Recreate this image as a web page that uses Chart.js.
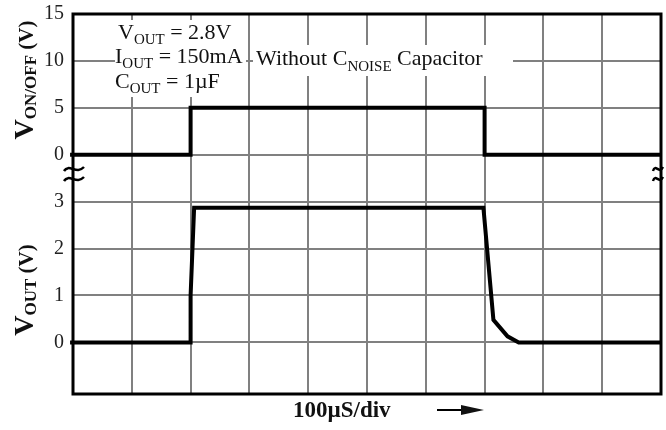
<!DOCTYPE html>
<html>
<head>
<meta charset="utf-8">
<script src="https://cdn.jsdelivr.net/npm/chart.js@4.4.0/dist/chart.umd.min.js"></script>
<style>
  html, body { margin: 0; padding: 0; background: #fff; }
</style>
</head>
<body>
<canvas id="scope" width="666" height="430"></canvas>
<script>
// time in microseconds (100us per division)
const onOffTime = [-5, 200, 200, 700, 700, 1000];
const onOffVolts = [0, 0, 5, 5, 0, 0];
const voutTime = [-5, 200, 200, 206, 698, 715, 739, 758, 1000];
const voutVolts = [0, 0, 1.0, 2.87, 2.87, 0.48, 0.13, 0, 0];

// the screen has 4 rows for each trace
const voutTickLabels = ["0", "1", "2", "3"];
const onOffTickLabels = ["0", "5", "10", "15"];

const serif = "'Liberation Serif', 'Times New Roman', serif";
const gridGrey = "#808080";

// V_OUT rows sit at divisions 0..3, V_ON/OFF rows at 4..7 (5V per division)
const voutPoints = voutTime.map((t, i) => ({ x: t, y: voutVolts[i] }));
const onOffPoints = onOffTime.map((t, i) => ({ x: t, y: 4 + onOffVolts[i] / 5 }));

function drawRun(ctx, x, y, parts) {
  parts.forEach(p => {
    ctx.font = p.font;
    ctx.fillText(p.t, x, y + (p.dy || 0));
    x += ctx.measureText(p.t).width;
  });
  return x;
}
function runWidth(ctx, parts) {
  let w = 0;
  parts.forEach(p => { ctx.font = p.font; w += ctx.measureText(p.t).width; });
  return w;
}

function squiggle(ctx, cx, cy, half) {
  ctx.save();
  ctx.strokeStyle = "#000";
  ctx.lineWidth = 2.5;
  [-5, 5].forEach(d => {
    ctx.beginPath();
    ctx.moveTo(cx - half, cy + d + 2);
    ctx.bezierCurveTo(cx - half / 2, cy + d - 6, cx + half / 4, cy + d + 6, cx + half, cy + d - 2);
    ctx.stroke();
  });
  ctx.restore();
}

const main = "22px " + serif;
const sub = "15px " + serif;

const scopeDecor = {
  id: "scopeDecor",
  beforeDatasetsDraw(chart) {
    const ctx = chart.ctx;
    ctx.save();
    ctx.fillStyle = "#fff";
    // text boxes hide the grid behind them
    ctx.fillRect(115, 20, 131, 77);
    ctx.fillRect(253, 45, 260, 31);
    ctx.restore();
  },
  afterDraw(chart) {
    const ctx = chart.ctx;
    const a = chart.chartArea;
    ctx.save();
    ctx.fillStyle = "#111";
    ctx.textBaseline = "alphabetic";

    // conditions
    drawRun(ctx, 118, 39, [{ t: "V", font: main }, { t: "OUT", font: sub, dy: 5 }, { t: " = 2.8V", font: main }]);
    drawRun(ctx, 115, 63, [{ t: "I", font: main }, { t: "OUT", font: sub, dy: 5 }, { t: " = 150mA", font: main }]);
    drawRun(ctx, 115, 88, [{ t: "C", font: main }, { t: "OUT", font: sub, dy: 5 }, { t: " = 1\u00b5F", font: main }]);
    drawRun(ctx, 256, 65, [{ t: "Without C", font: main }, { t: "NOISE", font: sub, dy: 6 }, { t: " Capacitor", font: main }]);

    // rotated axis titles
    const titles = [
      { cy: 80, parts: [{ t: "V", font: "bold 28px " + serif }, { t: "ON/OFF", font: "bold 17px " + serif, dy: 3 }, { t: " (V)", font: "bold 21px " + serif }] },
      { cy: 290, parts: [{ t: "V", font: "bold 28px " + serif }, { t: "OUT", font: "bold 17px " + serif, dy: 3 }, { t: " (V)", font: "bold 21px " + serif }] }
    ];
    titles.forEach(tt => {
      ctx.save();
      ctx.translate(33, tt.cy);
      ctx.rotate(-Math.PI / 2);
      drawRun(ctx, -runWidth(ctx, tt.parts) / 2, 0, tt.parts);
      ctx.restore();
    });

    // time base label and arrow
    ctx.font = "bold 23px " + serif;
    ctx.fillText("100\u00b5S/div", 293, 417);
    ctx.strokeStyle = "#000";
    ctx.lineWidth = 2;
    ctx.beginPath();
    ctx.moveTo(437, 410);
    ctx.lineTo(463, 410);
    ctx.stroke();
    ctx.beginPath();
    ctx.moveTo(461, 405);
    ctx.lineTo(484, 410);
    ctx.lineTo(461, 415);
    ctx.closePath();
    ctx.fill();

    // frame
    ctx.lineWidth = 3;
    ctx.strokeRect(a.left, a.top, a.right - a.left, a.bottom - a.top);

    // axis break marks
    squiggle(ctx, a.left + 1, 174, 10);
    squiggle(ctx, a.right - 3, 174, 5);
    ctx.restore();
  }
};

new Chart(document.getElementById("scope"), {
  type: "scatter",
  data: {
    datasets: [
      { label: "VON/OFF", data: onOffPoints },
      { label: "VOUT", data: voutPoints }
    ]
  },
  options: {
    responsive: false,
    animation: false,
    layout: { padding: { top: 14, right: 5, bottom: 36, left: 0 } },
    elements: {
      point: { radius: 0 },
      line: { borderColor: "#000", borderWidth: 4, tension: 0, borderJoinStyle: "miter", borderCapStyle: "butt" }
    },
    datasets: { scatter: { showLine: true, clip: false } },
    plugins: { legend: { display: false }, tooltip: { enabled: false } },
    scales: {
      x: {
        type: "linear",
        min: 0,
        max: 1000,
        ticks: { display: false, stepSize: 100 },
        grid: { color: gridGrey, lineWidth: 2, drawTicks: false },
        border: { display: false },
        afterFit(s) { s.height = 0; s.paddingLeft = 0; s.paddingRight = 0; }
      },
      y: {
        type: "linear",
        min: -1.1,
        max: 7,
        afterBuildTicks(s) { s.ticks = [0, 1, 2, 3, 4, 5, 6, 7].map(v => ({ value: v })); },
        ticks: {
          padding: 9,
          color: "#222",
          font: { family: serif, size: 20 },
          callback: v => v < 4 ? voutTickLabels[v] : onOffTickLabels[v - 4]
        },
        grid: { color: gridGrey, lineWidth: 2, drawTicks: false },
        border: { display: false },
        afterFit(s) { s.width = 73; s.paddingTop = 0; s.paddingBottom = 0; }
      }
    }
  },
  plugins: [scopeDecor]
});
</script>
</body>
</html>
